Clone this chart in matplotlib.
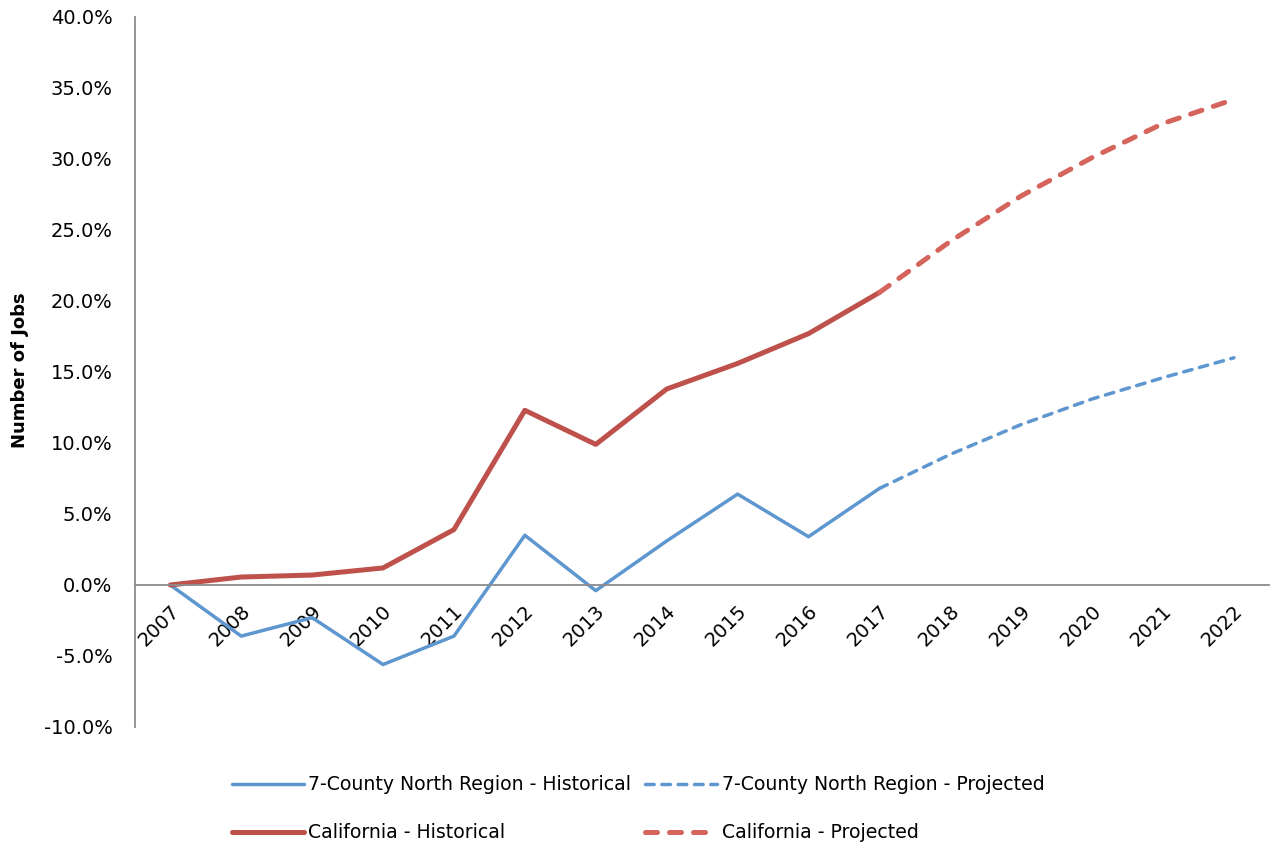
import matplotlib
matplotlib.use("Agg")
import matplotlib.pyplot as plt
from matplotlib.ticker import FuncFormatter, MultipleLocator
from matplotlib.transforms import ScaledTranslation
from matplotlib.lines import Line2D

plt.rcParams['font.family'] = ['DejaVu Sans']

years = [str(y) for y in range(2007, 2023)]
north_hist = [0.0, -3.6, -2.3, -5.6, -3.6, 3.5, -0.4, 3.1, 6.4, 3.4, 6.8]
north_proj = [6.8, 9.2, 11.3, 13.1, 14.6, 16.0]
ca_hist = [0.0, 0.56, 0.7, 1.2, 3.9, 12.3, 9.9, 13.8, 15.6, 17.7, 20.6]
ca_proj = [20.6, 24.2, 27.4, 30.1, 32.5, 34.2]

blue = '#5E97D0'
red_h = '#BE514B'
red_p = '#D5655C'

fig = plt.figure(figsize=(12.72, 8.48), dpi=100)
ax = fig.add_axes([0.106, 0.1427, 0.892, 0.8373])

x_hist = list(range(len(north_hist)))
x_proj = list(range(len(north_hist) - 1, len(years)))

blue_lw = 2.5
red_lw = 3.6
blue_dash = (0, (2.5, 2.2))
red_dash = (0, (2.4, 2.4))

ax.plot(x_hist, north_hist, color=blue, lw=blue_lw, solid_capstyle='round', solid_joinstyle='round')
ax.plot(x_proj, north_proj, color=blue, lw=blue_lw, ls=blue_dash, dash_capstyle='round')
ax.plot(x_hist, ca_hist, color=red_h, lw=red_lw, solid_capstyle='round', solid_joinstyle='round')
ax.plot(x_proj, ca_proj, color=red_p, lw=red_lw, ls=red_dash, dash_capstyle='round')

ax.set_xlim(-0.5, len(years) - 0.5)
ax.set_ylim(-10, 40)

for s in ['top', 'right']:
    ax.spines[s].set_visible(False)
ax.spines['bottom'].set_position(('data', 0))
for s in ['bottom', 'left']:
    ax.spines[s].set_color('#8C8C8C')
    ax.spines[s].set_linewidth(1.3)

ax.yaxis.set_major_locator(MultipleLocator(5))
ax.yaxis.set_major_formatter(FuncFormatter(lambda v, p: f"{v:.1f}%"))
ax.set_xticks(range(len(years)))
ax.set_xticklabels(years)
ax.tick_params(axis='both', length=0, labelsize=14, colors='black')
ax.tick_params(axis='x', pad=17)
ax.tick_params(axis='y', pad=16)
for lab in ax.get_xticklabels():
    lab.set_rotation(45)
    lab.set_ha('right')
    lab.set_va('center')
    lab.set_rotation_mode('anchor')
    lab.set_transform(lab.get_transform() + ScaledTranslation(6 / 100, 0, fig.dpi_scale_trans))

fig.text(0.016, 0.564, 'Number of Jobs', rotation=90, fontsize=13, fontweight='bold', ha='center', va='center')

entries = [
    ('7-County North Region - Historical', blue, blue_lw, '-', 232, 785),
    ('7-County North Region - Projected', blue, blue_lw, blue_dash, 645, 785),
    ('California - Historical', red_h, red_lw, '-', 232, 833),
    ('California - Projected', red_p, red_lw, red_dash, 645, 833),
]
W, H = 1272, 848
for label, c, lw, ls, px, py in entries:
    h = Line2D([], [], color=c, lw=lw, ls=ls, solid_capstyle='round', dash_capstyle='round')
    fig.legend(handles=[h], labels=[label], loc='center left',
               bbox_to_anchor=(px / W, 1 - py / H), frameon=False, fontsize=13.6,
               handlelength=3.8, handletextpad=0.25, borderpad=0, borderaxespad=0)

fig.savefig('out.png', dpi=100)
